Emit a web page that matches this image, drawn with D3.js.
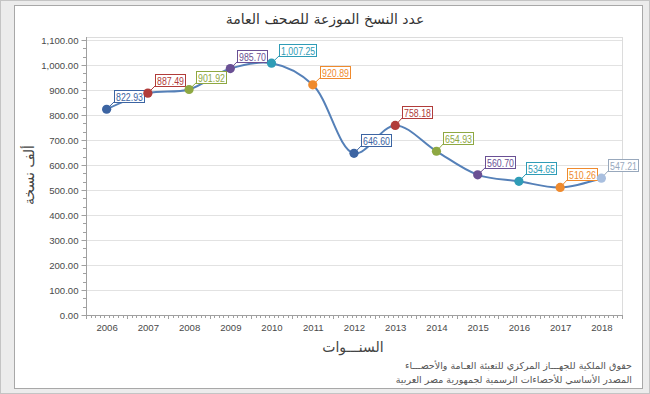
<!DOCTYPE html>
<html><head><meta charset="utf-8">
<script src="https://cdn.jsdelivr.net/npm/d3@7"></script>
<style>body{margin:0;background:#ececec;}svg{display:block;}</style>
</head><body>
<svg id="c" width="650" height="394"></svg>
<script>
const years = ["2006","2007","2008","2009","2010","2011","2012","2013","2014","2015","2016","2017","2018"];
const values = [822.93,887.49,901.92,985.70,1007.25,920.89,646.60,758.18,654.93,560.70,534.65,510.26,547.21];
const pointColors = ["#3c64a2","#b13c3a","#8ea842","#6a5094","#2f9cb6","#ef8a2d","#3c64a2","#b13c3a","#8ea842","#6a5094","#2f9cb6","#ef8a2d","#a9bfdf"];
const labelColors = ["#3c64a2","#b13c3a","#8ea842","#6a5094","#2f9cb6","#ef8a2d","#3c64a2","#b13c3a","#8ea842","#6a5094","#2f9cb6","#ef8a2d","#98a8bc"];
const yTicks = [0,100,200,300,400,500,600,700,800,900,1000,1100];
const titleText = "عدد النسخ الموزعة للصحف العامة";
const xTitle = "السنـــوات";
const yTitle = "ألف نسخة";
const foot1 = "حقوق الملكية للجهـــاز المركزي للتعبئة العـامة والأحصـــاء";
const foot2 = "المصدر الأساسي للأحصاءات الرسمية لجمهورية مصر العربية";

const svg = d3.select("#c");
const W=650,H=394;
const M={l:86,r:622,t:37,b:315};
svg.append("rect").attr("x",0.5).attr("y",0.5).attr("width",W-1).attr("height",H-1).attr("fill","#ececec").attr("stroke","#c4c4c4");
svg.append("rect").attr("x",14.5).attr("y",5.5).attr("width",628).attr("height",383).attr("fill","#fff").attr("stroke","#a8a8a8");

const x = d3.scalePoint().domain(years).range([M.l,M.r]).padding(0.5);
const y = d3.scaleLinear().domain([0,1100]).range([M.b,40]);

svg.append("rect").attr("x",M.l+0.5).attr("y",M.t+0.5).attr("width",M.r-M.l).attr("height",M.b-M.t).attr("fill","none").attr("stroke","#dcdcdc");
svg.append("g").selectAll("line").data(yTicks.filter(d=>d>0)).join("line")
  .attr("x1",M.l).attr("x2",M.r).attr("y1",d=>Math.round(y(d))+0.5).attr("y2",d=>Math.round(y(d))+0.5)
  .attr("stroke","#e2e2e2");

const ya = svg.append("g").attr("transform",`translate(${M.l+0.5},0)`)
  .call(d3.axisLeft(y).tickValues(yTicks).tickSize(5).tickPadding(3).tickFormat(d3.format(",.2f")));
ya.select(".domain").attr("stroke","#a0a0a0").attr("d",`M0,${M.t}V${M.b}`);
ya.selectAll(".tick line").attr("stroke","#a0a0a0");
ya.selectAll("text").attr("font-family","Liberation Sans").attr("font-size","9.6px").attr("fill","#4a4a4a");
const yMinor = d3.range(0,1100,100).flatMap(v=>[v+100/3,v+200/3]);
svg.append("g").selectAll("line").data(yMinor).join("line")
  .attr("x1",M.l-3).attr("x2",M.l).attr("y1",d=>Math.round(y(d))+0.5).attr("y2",d=>Math.round(y(d))+0.5).attr("stroke","#a0a0a0");

const xa = svg.append("g").attr("transform",`translate(0,${M.b+0.5})`)
  .call(d3.axisBottom(x).tickSize(0).tickPadding(9));
xa.select(".domain").attr("stroke","#a0a0a0").attr("d",`M${M.l},0H${M.r}`);
xa.selectAll("text").attr("font-family","Liberation Sans").attr("font-size","9.6px").attr("fill","#4a4a4a");
const step = x.step();
const xMinor = d3.range(0,years.length*9+1).map(i=>M.l+ i*step/9);
svg.append("g").selectAll("line").data(xMinor).join("line")
  .attr("x1",d=>Math.round(d)+0.5).attr("x2",d=>Math.round(d)+0.5)
  .attr("y1",M.b).attr("y2",(d,i)=> i%9===0?M.b+4:M.b+3).attr("stroke","#a0a0a0");

const line = d3.line().x((d,i)=>x(years[i])).y(d=>y(d)).curve(d3.curveCatmullRom.alpha(0.5));
svg.append("path").attr("d",line(values)).attr("fill","none").attr("stroke","#5580b8").attr("stroke-width",2);

const lg = svg.append("g");
values.forEach((v,i)=>{
  const px=x(years[i]), py=y(v);
  const txt = d3.format(",.2f")(v);
  const t = lg.append("text").attr("font-family","Liberation Sans").attr("font-size","10px")
    .attr("fill",labelColors[i]).text(txt);
  const w0 = t.node().getComputedTextLength();
  const w = w0*0.88;
  t.attr("textLength",w).attr("lengthAdjust","spacingAndGlyphs");
  const bx = Math.round(px+7), by = Math.round(py-19);
  lg.insert("line","text").attr("x1",px).attr("y1",py).attr("x2",bx+1).attr("y2",by+11).attr("stroke",labelColors[i]).attr("stroke-width",1);
  lg.insert("rect","text").attr("x",bx+0.5).attr("y",by+0.5).attr("width",Math.round(w+3)).attr("height",12)
    .attr("fill","#fff").attr("stroke",labelColors[i]).attr("stroke-width",1);
  t.attr("x",bx+2).attr("y",by+10.5);
});

svg.append("g").selectAll("circle").data(values).join("circle")
  .attr("cx",(d,i)=>x(years[i])).attr("cy",d=>y(d)).attr("r",4.6)
  .attr("fill",(d,i)=>pointColors[i]);

svg.append("text").attr("x",325).attr("y",24).attr("text-anchor","middle")
  .attr("font-family","DejaVu Sans").attr("font-size","14px").attr("fill","#333").text(titleText);
svg.append("text").attr("x",353).attr("y",352).attr("text-anchor","middle")
  .attr("font-family","DejaVu Sans").attr("font-size","14px").attr("fill","#444").text(xTitle);
svg.append("text").attr("transform","translate(34,175) rotate(-90)").attr("text-anchor","middle")
  .attr("font-family","DejaVu Sans").attr("font-size","14px").attr("fill","#444").text(yTitle);
svg.append("text").attr("x",632).attr("y",369).attr("text-anchor","end")
  .attr("font-family","DejaVu Sans").attr("font-size","9.5px").attr("fill","#555").text(foot1);
svg.append("text").attr("x",632).attr("y",383).attr("text-anchor","end")
  .attr("font-family","DejaVu Sans").attr("font-size","9.5px").attr("fill","#555").text(foot2);
</script>
</body></html>
